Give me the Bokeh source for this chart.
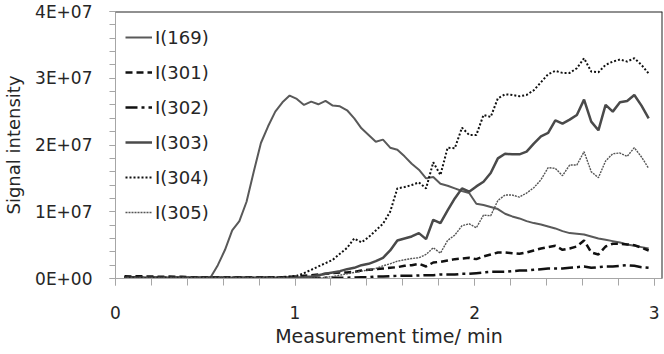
from bokeh.plotting import figure
from bokeh.models import (Range1d, Span, Legend, LegendItem,
                          SingleIntervalTicker, CustomJSTickFormatter)
from bokeh.embed import file_html
from bokeh.resources import INLINE

# Measurement time / min
time = [0.05, 0.09, 0.13, 0.17, 0.21, 0.25, 0.29, 0.33, 0.37, 0.41,
        0.45, 0.49, 0.53, 0.57, 0.61, 0.65, 0.69, 0.73, 0.77, 0.81,
        0.85, 0.89, 0.93, 0.97, 1.01, 1.05, 1.09, 1.13, 1.17, 1.21,
        1.25, 1.29, 1.33, 1.37, 1.41, 1.45, 1.49, 1.53, 1.57, 1.61,
        1.65, 1.69, 1.73, 1.77, 1.81, 1.85, 1.89, 1.93, 1.97, 2.01,
        2.05, 2.09, 2.13, 2.17, 2.21, 2.25, 2.29, 2.33, 2.37, 2.41,
        2.45, 2.49, 2.53, 2.57, 2.61, 2.65, 2.69, 2.73, 2.77, 2.81,
        2.85, 2.89, 2.93, 2.97]

# Signal intensities in units of 1E+06
i169 = [0.2, 0.15, 0.2, 0.1, 0.15, 0.1, 0.1, 0.15, 0.1, 0.1,
        0.1, 0.1, 0.2, 2.0, 4.3, 7.2, 8.6, 11.5, 16.0, 20.3,
        22.8, 25.0, 26.4, 27.4, 26.9, 26.0, 26.5, 26.1, 26.6, 25.9,
        25.8, 25.2, 24.0, 22.5, 21.5, 20.5, 20.8, 19.6, 19.3, 18.3,
        17.2, 16.3, 15.0, 15.2, 14.2, 13.9, 13.5, 13.1, 12.8, 11.2,
        11.0, 10.7, 10.4, 9.7, 9.3, 9.0, 8.6, 8.3, 8.1, 7.8,
        7.5, 7.1, 6.8, 6.7, 6.6, 6.3, 6.0, 5.8, 5.6, 5.4,
        5.1, 4.9, 4.7, 4.5]

i301 = [0.35, 0.3, 0.35, 0.3, 0.3, 0.25, 0.3, 0.25, 0.25, 0.2,
        0.2, 0.2, 0.2, 0.2, 0.2, 0.2, 0.2, 0.2, 0.2, 0.2,
        0.2, 0.2, 0.2, 0.25, 0.3, 0.4, 0.5, 0.6, 0.7, 0.8,
        0.9, 0.9, 1.0, 1.2, 1.3, 1.4, 1.5, 1.6, 1.7, 1.9,
        2.0, 2.2, 1.8, 2.4, 2.5, 2.7, 2.9, 3.0, 3.1, 2.9,
        3.3, 3.6, 3.9, 3.9, 3.8, 3.7, 3.9, 4.2, 4.5, 4.7,
        4.9, 4.3, 4.5, 4.8, 5.7, 3.9, 3.6, 4.8, 5.2, 5.2,
        5.1, 5.0, 4.6, 4.2]

i302 = [0.2, 0.15, 0.15, 0.1, 0.1, 0.1, 0.1, 0.1, 0.1, 0.1,
        0.1, 0.1, 0.1, 0.1, 0.1, 0.1, 0.1, 0.1, 0.1, 0.1,
        0.1, 0.1, 0.1, 0.1, 0.1, 0.1, 0.1, 0.1, 0.1, 0.1,
        0.1, 0.12, 0.15, 0.2, 0.2, 0.3, 0.3, 0.35, 0.4, 0.4,
        0.4, 0.45, 0.5, 0.5, 0.6, 0.6, 0.6, 0.7, 0.7, 0.8,
        0.9, 1.0, 1.0, 1.0, 1.1, 1.2, 1.2, 1.3, 1.4, 1.5,
        1.5, 1.5, 1.6, 1.7, 1.8, 1.6, 1.7, 1.8, 1.8, 1.9,
        2.0, 1.9, 1.7, 1.6]

i303 = [0.1, 0.1, 0.1, 0.1, 0.1, 0.1, 0.1, 0.1, 0.1, 0.1,
        0.1, 0.1, 0.1, 0.1, 0.1, 0.1, 0.1, 0.1, 0.1, 0.1,
        0.1, 0.1, 0.1, 0.1, 0.15, 0.2, 0.3, 0.5, 0.7, 0.9,
        1.1, 1.4, 1.6, 2.0, 2.2, 2.6, 3.1, 4.2, 5.7, 6.0,
        6.3, 6.8, 5.9, 8.8, 8.3, 10.2, 12.0, 13.5, 13.0, 13.8,
        14.5, 15.8, 18.0, 18.7, 18.6, 18.6, 19.0, 20.2, 21.3, 21.8,
        23.7, 23.2, 23.8, 24.5, 26.8, 23.5, 22.2, 26.0, 25.0, 26.4,
        26.6, 27.5, 25.9, 24.0]

i304 = [0.1, 0.1, 0.1, 0.05, 0.1, 0.1, 0.1, 0.1, 0.1, 0.1,
        0.1, 0.1, 0.1, 0.1, 0.1, 0.1, 0.1, 0.1, 0.1, 0.1,
        0.15, 0.15, 0.2, 0.3, 0.4, 0.8, 1.3, 1.8, 2.3, 2.8,
        3.7, 4.6, 6.0, 5.4, 6.2, 7.2, 8.2, 10.0, 13.5, 13.7,
        14.0, 14.4, 13.5, 17.4, 15.5, 19.6, 19.5, 22.6, 21.5, 21.5,
        24.5, 24.2, 27.0, 27.6, 27.5, 27.3, 27.5, 28.2, 29.4, 30.6,
        31.1, 30.8, 30.8, 31.5, 33.0, 31.0, 30.9, 32.0, 32.5, 32.8,
        32.5, 33.0, 32.0, 30.7]

i305 = [0.1, 0.1, 0.1, 0.1, 0.1, 0.1, 0.1, 0.1, 0.1, 0.1,
        0.1, 0.1, 0.1, 0.1, 0.1, 0.1, 0.1, 0.1, 0.1, 0.1,
        0.1, 0.1, 0.1, 0.1, 0.1, 0.1, 0.1, 0.1, 0.15, 0.3,
        0.5, 0.7, 0.9, 1.1, 1.3, 1.5, 1.9, 2.2, 2.6, 2.8,
        3.0, 3.1, 3.6, 4.6, 3.8, 5.7, 6.5, 7.9, 8.2, 7.6,
        9.5, 9.4, 11.7, 12.5, 12.5, 12.2, 12.8, 13.6, 14.8, 16.6,
        16.5, 15.4, 17.0, 17.0, 19.0, 16.0, 15.1, 17.6, 18.7, 18.8,
        18.3, 19.6, 18.2, 16.5]

series_names = ["I(169)", "I(301)", "I(302)", "I(303)", "I(304)", "I(305)"]
series_values = [i169, i301, i302, i303, i304, i305]

FONT = "DejaVu Sans"
TXT = "#262626"
AX = "#a6a6a6"

p = figure(width=664, height=354, output_backend="svg", toolbar_location=None,
           x_range=Range1d(0, 3.047), y_range=Range1d(0, 4e7),
           min_border_left=115, min_border_right=2, min_border_top=11,
           min_border_bottom=76)
p.xgrid.visible = False
p.ygrid.visible = False
p.outline_line_color = None
p.background_fill_color = "white"
p.border_fill_color = "white"

styles = [
    dict(line_color="#595959", line_width=2.0, line_dash="solid"),
    dict(line_color="#111111", line_width=2.5, line_dash="7 4"),
    dict(line_color="#111111", line_width=2.5, line_dash="12 4 3 4"),
    dict(line_color="#4a4a4a", line_width=2.5, line_dash="solid"),
    dict(line_color="#111111", line_width=2.0, line_dash="2 2"),
    dict(line_color="#555555", line_width=1.4, line_dash="2 1"),
]

items = []
for name, vals, st in zip(series_names, series_values, styles):
    r = p.line(x=time, y=[v * 1e6 for v in vals], **st)
    items.append(LegendItem(label=name, renderers=[r]))

# frame top and right edges
p.add_layout(Span(location=4e7, dimension="width", line_color="#222222", line_width=2))
p.add_layout(Span(location=3.047, dimension="height", line_color="#222222", line_width=2))

fmt = CustomJSTickFormatter(code="""
const s = tick.toExponential(0).split('e');
const ex = parseInt(s[1]);
const a = Math.abs(ex);
return s[0] + 'E' + (ex < 0 ? '-' : '+') + (a < 10 ? '0' : '') + a;
""")

xa = p.xaxis[0]
ya = p.yaxis[0]
xa.ticker = SingleIntervalTicker(interval=1, num_minor_ticks=5)
ya.ticker = SingleIntervalTicker(interval=1e7, num_minor_ticks=5)
ya.formatter = fmt
for ax in (xa, ya):
    ax.axis_line_color = AX
    ax.major_tick_line_color = AX
    ax.minor_tick_line_color = AX
    ax.major_tick_in = 0
    ax.minor_tick_in = 0
    ax.major_tick_out = 7
    ax.minor_tick_out = 7
    ax.major_label_text_font = FONT
    ax.major_label_text_font_size = "17px"
    ax.major_label_text_color = TXT
    ax.axis_label_text_font = FONT
    ax.axis_label_text_font_style = "normal"
    ax.axis_label_text_color = TXT
ya.major_tick_out = 6
ya.minor_tick_out = 6
ya.major_label_standoff = 17
xa.major_label_standoff = 20
ya.axis_label = "Signal intensity"
ya.axis_label_text_font_size = "18px"
ya.axis_label_standoff = 8
xa.axis_label = "Measurement time/ min"
xa.axis_label_text_font_size = "19px"
xa.axis_label_standoff = 3

legend = Legend(items=items, location=(10, 55), padding=0, margin=0,
                glyph_width=27, glyph_height=22, label_height=22, spacing=13,
                label_standoff=3, label_text_font=FONT, label_text_font_size="18px",
                label_text_color=TXT, background_fill_alpha=0,
                border_line_color=None)
p.add_layout(legend, "center")

open("out.html", "w").write(file_html(p, INLINE))
